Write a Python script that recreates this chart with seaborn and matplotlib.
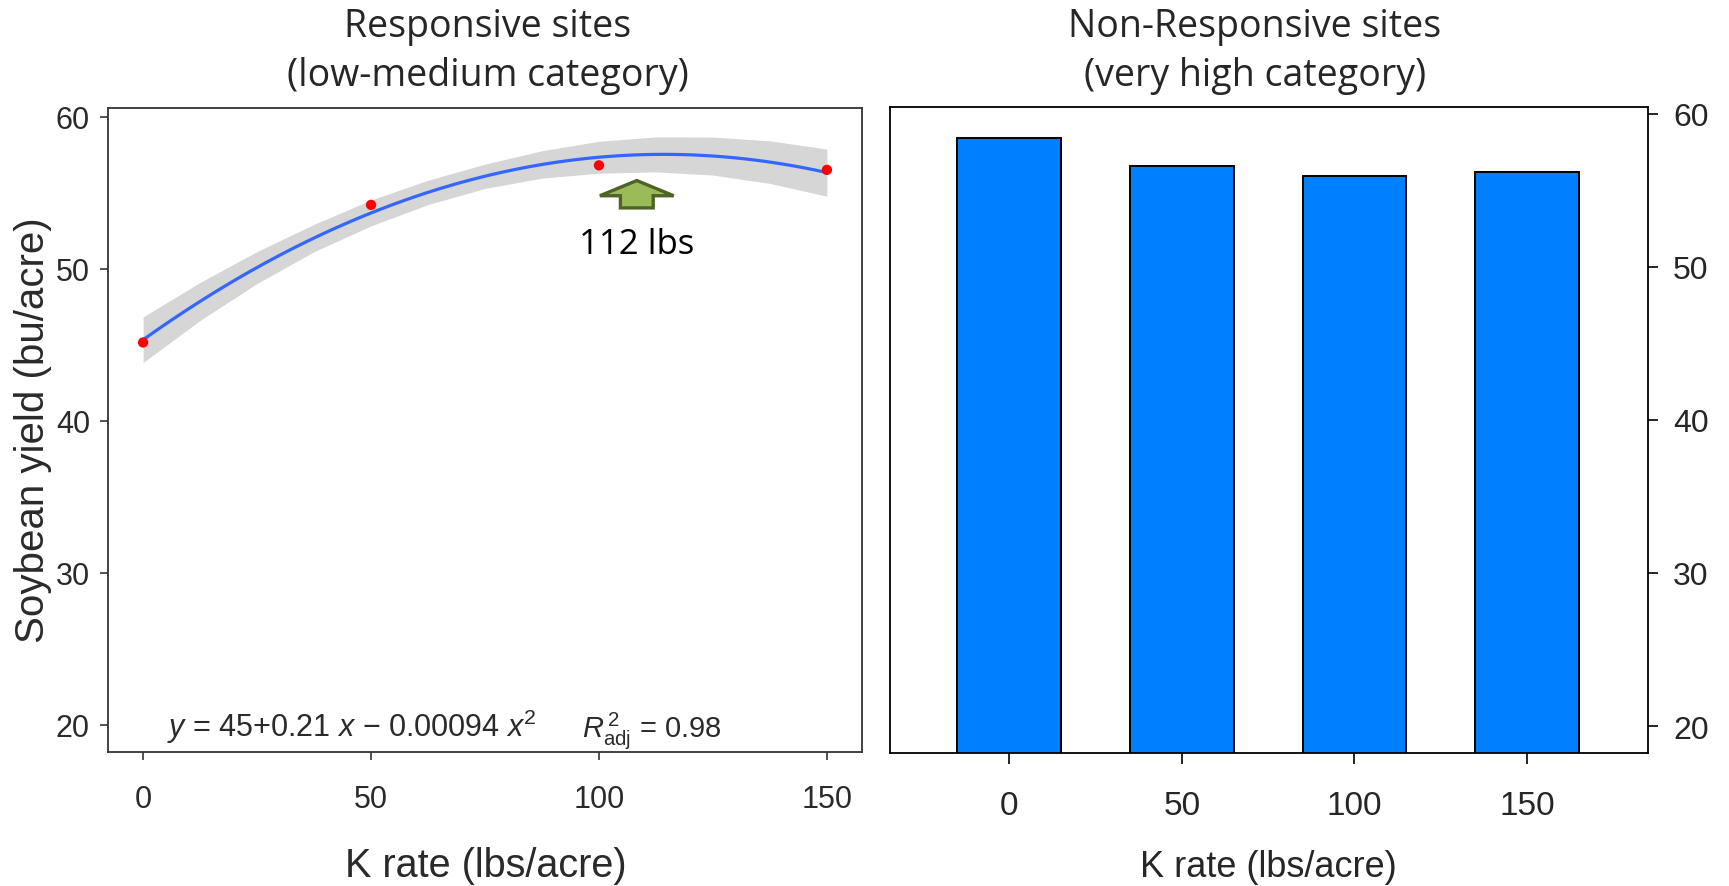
import numpy as np
import pandas as pd
import matplotlib
matplotlib.use("Agg")
import matplotlib.pyplot as plt
import matplotlib.patches as mpatches
import seaborn as sns

# ---- data ----
k_rates = [0, 50, 100, 150]
resp_yield = [45.15, 54.2, 56.8, 56.5]          # responsive sites (means)
nonresp_yield = [58.4, 56.6, 55.9, 56.2]         # non-responsive sites
bar_labels = ["0", "50", "100", "150"]
band_x = [0, 12.5, 25, 37.5, 50, 62.5, 75, 87.5, 100, 112.5, 125, 137.5, 150]
band_hi = [46.83, 49.10, 51.13, 52.92, 54.52, 55.82, 56.88, 57.76, 58.38, 58.67, 58.66, 58.41, 57.87]
band_lo = [43.83, 46.60, 49.03, 51.12, 52.82, 54.22, 55.28, 55.96, 56.28, 56.37, 56.16, 55.61, 54.77]
y_ticks = [20, 30, 40, 50, 60]
x_ticks = [0, 50, 100, 150]
optimum_rate = 108.3

sns.set_style("white")
plt.rcParams["font.family"] = ["Liberation Sans", "DejaVu Sans"]
plt.rcParams["mathtext.fontset"] = "custom"
plt.rcParams["mathtext.rm"] = "Liberation Sans"
plt.rcParams["mathtext.it"] = "Liberation Sans:italic"

W, H = 1729, 887
fig = plt.figure(figsize=(W / 100, H / 100), dpi=100)

def fx(px):
    return px / W

def fy(py):
    return 1 - py / H

# ---------- left panel ----------
ax1 = fig.add_axes([fx(108), fy(753), fx(862 - 108), (753 - 109) / H])
ax1.fill_between(band_x, band_lo, band_hi, color="#D6D6D6", linewidth=0, zorder=1)
sns.regplot(x=k_rates, y=resp_yield, order=2, ci=None, scatter=False, ax=ax1,
            line_kws=dict(color="#3366FF", linewidth=2.3, zorder=2))
sns.scatterplot(x=k_rates, y=resp_yield, ax=ax1, color="red", s=55,
                edgecolor="none", zorder=3)
ax1.set_xlim(-7.7, 157.7)
ax1.set_ylim(18.22, 60.57)
ax1.set_xticks(x_ticks)
ax1.set_yticks(y_ticks)
ax1.set_xticklabels([str(v) for v in x_ticks])
ax1.set_yticklabels([str(v) for v in y_ticks])
ax1.tick_params(axis="both", direction="out", length=6, width=1.2, color="#333333",
                labelcolor="#2a2a2a")
ax1.tick_params(axis="x", labelsize=22, pad=17, bottom=True)
ax1.tick_params(axis="y", labelsize=22, pad=7, left=True)
for s in ax1.spines.values():
    s.set_color("#333333")
    s.set_linewidth(1.3)
ax1.set_xlabel("")
ax1.set_ylabel("")

# arrow for optimum
arr = mpatches.FancyArrow(optimum_rate, 54.0, 0, 1.8, width=7.2, head_width=16.2,
                          head_length=1.0, length_includes_head=True,
                          facecolor="#9BBB59", edgecolor="#4F6228", linewidth=2.4, zorder=4)
ax1.add_patch(arr)
ax1.text(optimum_rate, 51.6, "112 lbs", ha="center", va="center", fontsize=25,
         family=["Open Sans", "DejaVu Sans"], color="black")
ax1.text(5.3, 19.28, r"$y$ = 45+0.21 $x$ $-$ 0.00094 $x^2$",
         ha="left", va="baseline", fontsize=22, color="#2a2a2a")
ax1.text(96.3, 19.28, r"$R^{\,2}_{\mathrm{adj}}$ = 0.98",
         ha="left", va="baseline", fontsize=21, color="#2a2a2a")

# ---------- right panel ----------
ax2 = fig.add_axes([fx(890), fy(754), fx(1648 - 890), (754 - 108) / H])
df = pd.DataFrame({"rate": bar_labels, "yield": nonresp_yield})
sns.barplot(data=df, x="rate", y="yield", ax=ax2, color="#0080FF", saturation=1,
            edgecolor="black", linewidth=1.4, width=0.6)
ax2.set_xlim(-0.69, 3.70)
ax2.set_ylim(18.24, 60.44)
ax2.yaxis.tick_right()
ax2.set_yticks(y_ticks)
ax2.set_yticklabels([str(v) for v in y_ticks])
ax2.tick_params(axis="y", right=True, left=False, direction="out", length=7, width=1.2,
                labelsize=23, pad=11, color="black")
ax2.tick_params(axis="x", bottom=True, direction="out", length=8, width=1.2,
                labelsize=24, pad=19, color="black")
for s in ax2.spines.values():
    s.set_color("black")
    s.set_linewidth(1.3)
ax2.set_xlabel("")
ax2.set_ylabel("")

# ---------- titles & labels ----------
tfont = ["Open Sans", "DejaVu Sans"]
fig.text(fx(488), fy(37), "Responsive sites", ha="center", va="baseline", fontsize=27, family=tfont)
fig.text(fx(488), fy(86), "(low-medium category)", ha="center", va="baseline", fontsize=27, family=tfont)
fig.text(fx(1255), fy(37), "Non-Responsive sites", ha="center", va="baseline", fontsize=27, family=tfont)
fig.text(fx(1255), fy(86), "(very high category)", ha="center", va="baseline", fontsize=27, family=tfont)

fig.text(fx(486), fy(866), "K rate (lbs/acre)", ha="center", va="center", fontsize=28.5, color="#2a2a2a")
fig.text(fx(1268), fy(868), "K rate (lbs/acre)", ha="center", va="center", fontsize=26)
fig.text(fx(33), fy(430), "Soybean yield (bu/acre)", ha="center", va="center", fontsize=29,
         rotation=90, color="#2a2a2a")

fig.savefig("out.png", dpi=100)
